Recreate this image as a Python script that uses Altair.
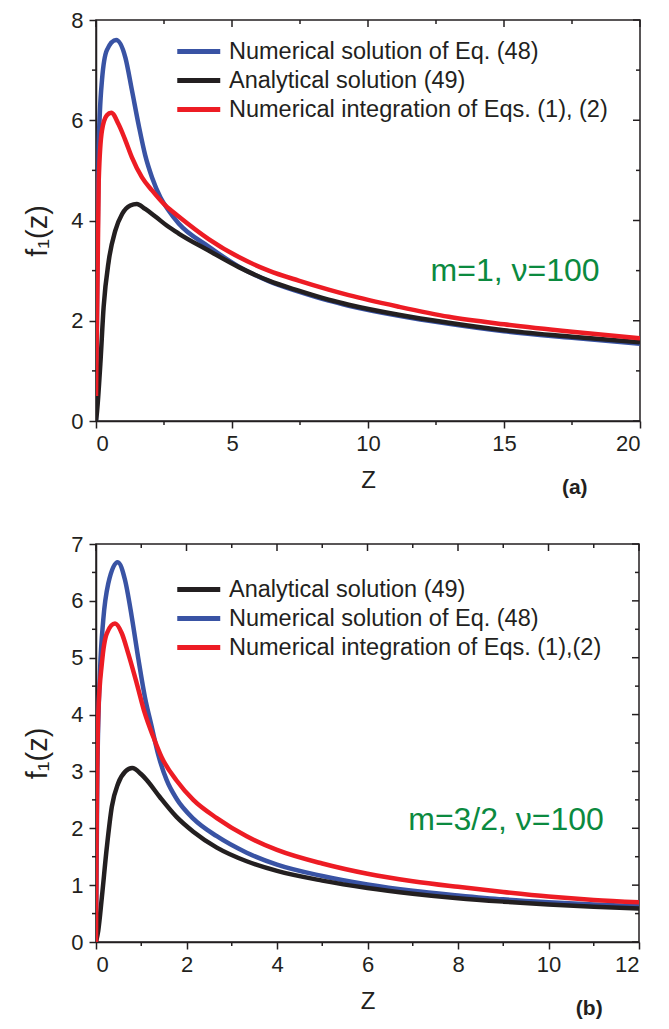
import altair as alt
import pandas as pd

FONT = "Liberation Sans"
INK = "#231f20"
BLUE = "#3953a4"
RED = "#ed1c24"
BLACK = "#231f20"
GREEN = "#0b8a3f"

# ---------------- Panel (a): m=1, nu=100 ----------------
A_NAMES = ["Numerical solution of Eq. (48)", "Analytical solution (49)",
           "Numerical integration of Eqs. (1), (2)"]
A_Z_BLUE = [0, 0.05, 0.1, 0.22, 0.4, 0.74, 1.08, 1.32, 1.57, 1.81, 2.06, 2.37, 2.67,
            3.04, 4.14, 5.25, 6.35, 7.45, 8.55, 9.29, 11.13, 12.97, 15, 17.5, 20]
A_F_BLUE = [0, 3.0, 5.5, 6.8, 7.4, 7.6, 7.25, 6.6, 5.9, 5.3, 4.86, 4.46, 4.2,
            3.94, 3.48, 3.08, 2.79, 2.58, 2.4, 2.3, 2.1, 1.94, 1.79, 1.66, 1.54]
A_Z_BLACK = [0, 0.04, 0.16, 0.28, 0.47, 0.71, 0.96, 1.26, 1.5, 1.81, 2.18, 2.6, 3.04,
             4.14, 5.25, 6.35, 7.45, 8.55, 9.29, 11.13, 12.97, 15, 17.5, 20]
A_F_BLACK = [0, 0.2, 1.14, 2.27, 3.2, 3.8, 4.13, 4.3, 4.33, 4.23, 4.08, 3.9, 3.74,
             3.4, 3.07, 2.8, 2.6, 2.42, 2.32, 2.12, 1.96, 1.81, 1.68, 1.57]
A_Z_RED = [0, 0.1, 0.22, 0.4, 0.56, 0.83, 1.08, 1.32, 1.69, 2.06, 2.55, 3.04, 4.14,
           5.25, 6.35, 7.45, 8.55, 9.29, 11.13, 12.97, 15, 17.5, 20]
A_F_RED = [0.5, 4.8, 5.8, 6.1, 6.15, 5.92, 5.6, 5.26, 4.86, 4.6, 4.3, 4.08, 3.63,
           3.27, 3.0, 2.8, 2.62, 2.51, 2.28, 2.08, 1.93, 1.78, 1.65]
A_X_MAJOR = [0, 5, 10, 15, 20]
A_X_MINOR = [2.5, 7.5, 12.5, 17.5]
A_Y_MAJOR = [0, 2, 4, 6, 8]
A_Y_MINOR = [1, 3, 5, 7]

# ---------------- Panel (b): m=3/2, nu=100 ----------------
B_NAMES = ["Analytical solution (49)", "Numerical solution of Eq. (48)",
           "Numerical integration of Eqs. (1),(2)"]
B_Z_BLACK = [0, 0.05, 0.13, 0.24, 0.35, 0.49, 0.65, 0.8, 1.0, 1.12, 1.41, 1.78, 2.15,
             2.67, 3.33, 4, 5, 6, 7, 8, 9, 10, 11, 12]
B_F_BLACK = [0, 0.2, 0.79, 1.67, 2.38, 2.79, 3.0, 3.06, 2.95, 2.85, 2.55, 2.2, 1.94,
             1.66, 1.42, 1.25, 1.08, 0.95, 0.85, 0.77, 0.71, 0.66, 0.62, 0.59]
B_Z_BLUE = [0, 0.03, 0.09, 0.16, 0.27, 0.48, 0.64, 0.79, 0.94, 1.08, 1.23, 1.38, 1.56,
            1.78, 2.15, 2.67, 3.33, 4, 5, 6, 7, 8, 9, 10, 11, 12]
B_F_BLUE = [0, 3.0, 4.78, 5.66, 6.3, 6.68, 6.37, 5.72, 4.96, 4.31, 3.79, 3.28, 2.85,
            2.52, 2.17, 1.86, 1.57, 1.36, 1.16, 1.01, 0.9, 0.82, 0.75, 0.70, 0.66, 0.63]
B_Z_RED = [0, 0.01, 0.05, 0.13, 0.24, 0.42, 0.57, 0.71, 0.9, 1.08, 1.27, 1.45, 1.78,
           2.15, 2.67, 3.33, 4, 5, 6, 7, 8, 9, 10, 11, 12]
B_F_RED = [0, 1.5, 4.0, 4.9, 5.43, 5.6, 5.43, 5.08, 4.55, 4.02, 3.6, 3.25, 2.84,
           2.5, 2.18, 1.86, 1.62, 1.38, 1.2, 1.07, 0.97, 0.88, 0.80, 0.74, 0.70]
B_X_MAJOR = [0, 2, 4, 6, 8, 10, 12]
B_X_MINOR = [1, 3, 5, 7, 9, 11]
B_Y_MAJOR = [0, 1, 2, 3, 4, 5, 6, 7]
B_Y_MINOR = [0.5, 1.5, 2.5, 3.5, 4.5, 5.5, 6.5]


def build_df(series):
    rows = []
    for name, zs, fs in series:
        for z, f in zip(zs, fs):
            rows.append({"z": z, "f": f, "series": name})
    return pd.DataFrame(rows)


def panel(df, order, colors, xmax, xmaj, xmin, ymax, ymaj, ymin, W, H,
          note, note_z, note_f, tag, tag_z, leg_x, leg_y):
    xs = alt.Scale(domain=[0, xmax], nice=False, zero=False)
    ys = alt.Scale(domain=[0, ymax], nice=False, zero=False)
    xax = alt.Axis(values=xmaj, title="Z", tickSize=7, labelPadding=5,
                   titlePadding=14, format="d")
    yax = alt.Axis(values=ymaj, title="f₁(z)", tickSize=7, labelPadding=6,
                   titleX=-50, titleY=H / 2 + 10, titleBaseline="alphabetic",
                   titleFontSize=29, format="d")
    X = alt.X("z:Q", scale=xs, axis=xax)
    Y = alt.Y("f:Q", scale=ys, axis=yax)

    legend = alt.Legend(orient="none", legendX=leg_x, legendY=leg_y, title=None,
                        direction="vertical",
                        symbolType="M-3,0H1", symbolSize=462, symbolStrokeWidth=5,
                        labelFontSize=23.5, labelFont=FONT, labelColor=INK,
                        labelOffset=6, rowPadding=4, padding=0, labelLimit=0)

    lines = alt.Chart(df).mark_line(strokeWidth=4.5, interpolate="monotone",
                                    clip=True).encode(
        x=X, y=Y,
        color=alt.Color("series:N", scale=alt.Scale(domain=order, range=colors),
                        legend=legend),
    )

    rule = dict(color=INK, strokeWidth=1.5)
    xmaj_df = pd.DataFrame({"z": xmaj})
    xmin_df = pd.DataFrame({"z": xmin})
    ymaj_df = pd.DataFrame({"f": ymaj})
    ymin_df = pd.DataFrame({"f": ymin})
    top_major = alt.Chart(xmaj_df).mark_rule(**rule).encode(
        x=X, y=alt.value(0), y2=alt.value(7))
    top_minor = alt.Chart(xmin_df).mark_rule(**rule).encode(
        x=X, y=alt.value(0), y2=alt.value(4))
    bot_minor = alt.Chart(xmin_df).mark_rule(**rule).encode(
        x=X, y=alt.value(H), y2=alt.value(H + 4))
    right_major = alt.Chart(ymaj_df).mark_rule(**rule).encode(
        y=Y, x=alt.value(W), x2=alt.value(W - 7))
    right_minor = alt.Chart(ymin_df).mark_rule(**rule).encode(
        y=Y, x=alt.value(W), x2=alt.value(W - 4))
    left_minor = alt.Chart(ymin_df).mark_rule(**rule).encode(
        y=Y, x=alt.value(0), x2=alt.value(-4))

    note_layer = alt.Chart(pd.DataFrame({"z": [note_z], "f": [note_f], "t": [note]})
                           ).mark_text(align="left", baseline="alphabetic",
                                       fontSize=32, font=FONT, color=GREEN
                                       ).encode(x=X, y=Y, text="t:N")
    tag_layer = alt.Chart(pd.DataFrame({"z": [tag_z], "t": [tag]})
                          ).mark_text(align="center", baseline="middle",
                                      fontSize=21, font=FONT, fontWeight="bold",
                                      color=INK
                                      ).encode(x=X, y=alt.value(H + 67), text="t:N")

    return alt.layer(lines, top_major, top_minor, bot_minor, right_major,
                     right_minor, left_minor, note_layer, tag_layer
                     ).properties(width=W, height=H)


df_a = build_df([(A_NAMES[0], A_Z_BLUE, A_F_BLUE),
                 (A_NAMES[1], A_Z_BLACK, A_F_BLACK),
                 (A_NAMES[2], A_Z_RED, A_F_RED)])
df_b = build_df([(B_NAMES[1], B_Z_BLUE, B_F_BLUE),
                 (B_NAMES[0], B_Z_BLACK, B_F_BLACK),
                 (B_NAMES[2], B_Z_RED, B_F_RED)])

pa = panel(df_a, A_NAMES, [BLUE, BLACK, RED], 20, A_X_MAJOR, A_X_MINOR, 8,
           A_Y_MAJOR, A_Y_MINOR, 544, 401, "m=1, ν=100", 12.3, 2.8,
           "(a)", 17.6, 100, 18)
pb = panel(df_b, B_NAMES, [BLACK, BLUE, RED], 12, B_X_MAJOR, B_X_MINOR, 7,
           B_Y_MAJOR, B_Y_MINOR, 543, 398, "m=3/2, ν=100", 6.9, 1.97,
           "(b)", 10.9, 100, 32)

chart = alt.vconcat(pa, pb, spacing=33).resolve_scale(color="independent").properties(
    padding={"left": 14, "top": 0, "right": 5, "bottom": 5}
).configure_axis(
    labelFont=FONT, titleFont=FONT, labelFontSize=22, titleFontSize=24,
    titleFontWeight="normal", labelColor=INK, titleColor=INK,
    domainColor=INK, tickColor=INK, domainWidth=1.5, tickWidth=1.5, grid=False,
).configure_view(stroke=INK, strokeWidth=1.5)

chart.save("out.html", embed_options={"renderer": "svg", "actions": False})
